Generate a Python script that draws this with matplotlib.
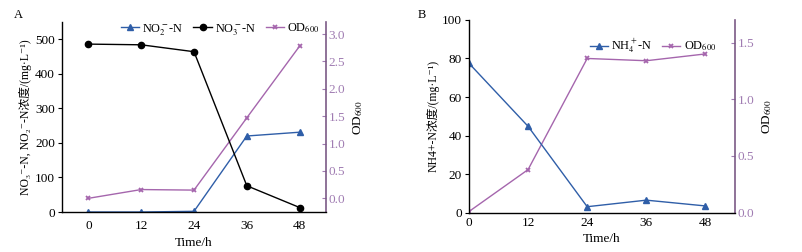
import matplotlib.pyplot as plt

plt.rcParams['font.family'] = ['Liberation Serif', 'DejaVu Serif', 'Noto Sans CJK SC']
plt.rcParams['font.size'] = 9.5
plt.rcParams['mathtext.fontset'] = 'stix'

# panel A data
time = [0, 12, 24, 36, 48]
no2_a = [0, 0, 2, 220, 231]
no3_a = [486, 484, 464, 76, 13]
od_a = [0.0, 0.16, 0.15, 1.47, 2.78]

# panel B data
nh4_b = [77.5, 44.8, 3.1, 6.5, 3.5]
od_b = [0.01, 0.38, 1.36, 1.34, 1.40]

xticks = [0, 12, 24, 36, 48]

blue = '#2f5ea8'
purple = '#a566ad'
purple_dark = '#7b5a86'
tick_purple = '#a07cb2'

fig = plt.figure(figsize=(8.03, 2.52), dpi=100)


def style_axes(ax, ax2):
    ax.spines['top'].set_visible(False)
    ax.spines['right'].set_visible(False)
    ax2.spines['top'].set_visible(False)
    ax2.spines['left'].set_visible(False)
    ax2.spines['bottom'].set_visible(False)
    ax2.spines['right'].set_color(purple_dark)
    ax2.spines['right'].set_linewidth(1.2)
    ax.spines['left'].set_linewidth(1.0)
    ax.spines['bottom'].set_linewidth(1.0)
    ax.tick_params(axis='y', direction='out', length=3, pad=2)
    ax.tick_params(axis='x', direction='out', length=0, pad=6)
    ax2.tick_params(axis='y', direction='in', length=3, colors=tick_purple,
                    labelcolor=tick_purple, pad=2)
    ax.set_xticks(xticks)
    ax.set_xlabel('Time/h', labelpad=3)
    ax2.set_ylabel('OD$_{600}$', labelpad=4)


# ---- A ----
axA = fig.add_axes([0.0772, 0.1587, 0.3288, 0.754])
axA2 = axA.twinx()
axA2.set_zorder(axA.get_zorder() - 1)
axA.patch.set_visible(False)
lA1, = axA.plot(time, no2_a, color=blue, marker='^', ms=4.5, lw=1, label='NO$_2^-$-N')
lA2, = axA.plot(time, no3_a, color='black', marker='o', ms=4.5, lw=1, label='NO$_3^-$-N')
lA3, = axA2.plot(time, od_a, color=purple, marker='x', ms=3.5, mew=1.3, lw=1, label='OD$_{600}$')
axA.set_xlim(-6, 54)
axA.set_ylim(0, 550)
axA.set_yticks([0, 100, 200, 300, 400, 500])
axA2.set_ylim(-0.25, 3.22)
axA2.set_yticks([0.0, 0.5, 1.0, 1.5, 2.0, 2.5, 3.0])
axA2.set_yticklabels(['0.0', '0.5', '1.0', '1.5', '2.0', '2.5', '3.0'])
axA.set_ylabel('NO\u2083\u207b-N, NO\u2082\u207b-N浓度/(mg·L\u207b\u00b9)', labelpad=2, fontsize=8.5)
style_axes(axA, axA2)
axA.legend(handles=[lA1, lA2, lA3], loc='upper center', bbox_to_anchor=(0.6, 1.06),
           ncol=3, frameon=False, fontsize=8.8, handlelength=1.5, columnspacing=0.8,
           handletextpad=0.25)
fig.text(0.017, 0.93, 'A', fontsize=9)

# ---- B ----
axB = fig.add_axes([0.584, 0.156, 0.3313, 0.765])
axB2 = axB.twinx()
axB2.set_zorder(axB.get_zorder() - 1)
axB.patch.set_visible(False)
lB1, = axB.plot(time, nh4_b, color=blue, marker='^', ms=4.5, lw=1, label='NH$_4^+$-N')
lB2, = axB2.plot(time, od_b, color=purple, marker='x', ms=3.5, mew=1.3, lw=1, label='OD$_{600}$')
axB.set_xlim(0, 54)
axB.set_ylim(0, 100)
axB.set_yticks([0, 20, 40, 60, 80, 100])
axB2.set_ylim(0, 1.7)
axB2.set_yticks([0.0, 0.5, 1.0, 1.5])
axB2.set_yticklabels(['0.0', '0.5', '1.0', '1.5'])
axB.set_ylabel('NH4+-N浓度/(mg·L\u207b\u00b9)', labelpad=2, fontsize=8.5)
style_axes(axB, axB2)
axB.tick_params(axis='x', pad=3)
axB.legend(handles=[lB1, lB2], loc='upper right', bbox_to_anchor=(0.97, 0.97),
           ncol=2, frameon=False, fontsize=8.8, handlelength=1.5, columnspacing=0.8,
           handletextpad=0.25)
fig.text(0.52, 0.93, 'B', fontsize=9)

fig.savefig('out.png', dpi=100)
